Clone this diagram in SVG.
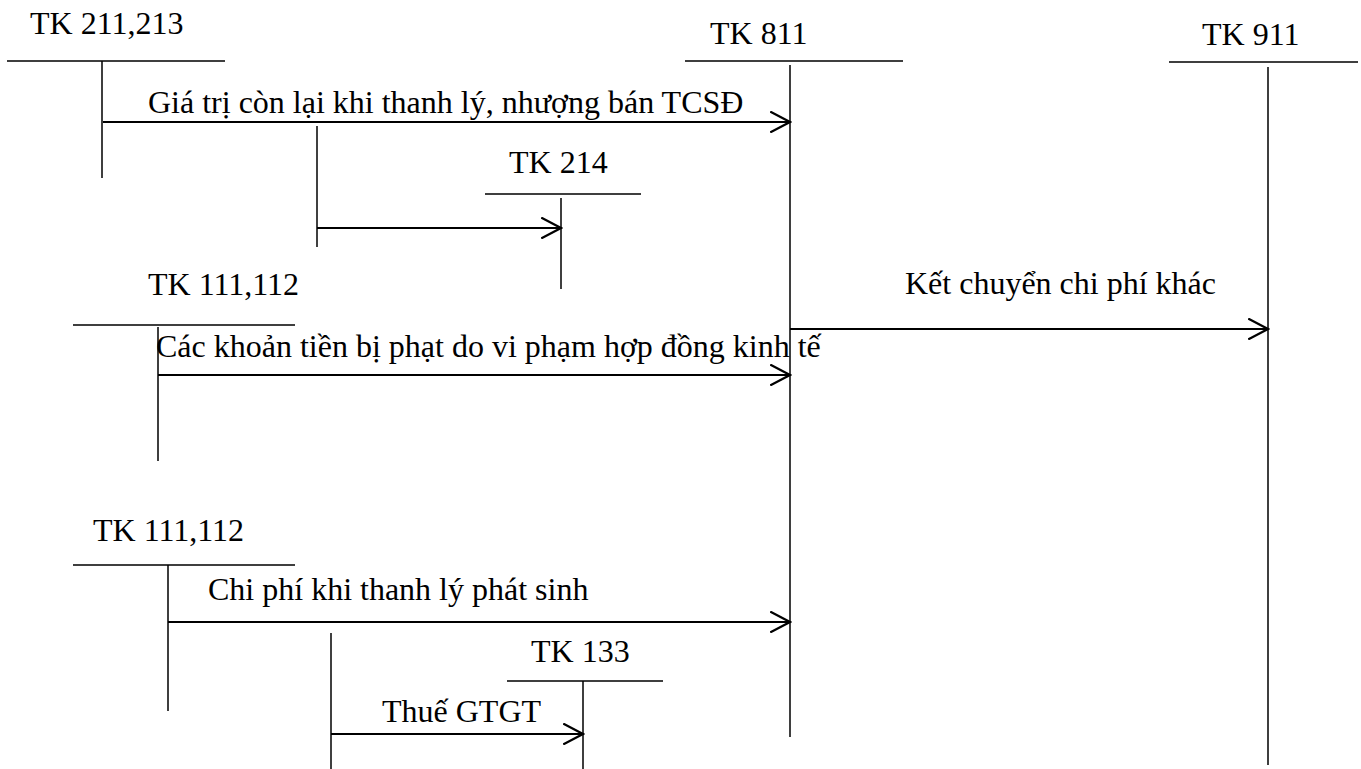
<svg xmlns="http://www.w3.org/2000/svg" width="1361" height="769" viewBox="0 0 1361 769">
  <style>
    .lbl { font-family: "Liberation Serif", "Times New Roman", serif; font-size: 32px; fill: #000; }
    .t { stroke: #000; stroke-width: 1.5; fill: none; }
    .arr { stroke: #000; stroke-width: 2; fill: none; marker-end: url(#chev); }
  </style>
  <defs>
    <marker id="chev" markerUnits="userSpaceOnUse" markerWidth="22" markerHeight="22" viewBox="0 0 20 20" refX="18" refY="10" orient="auto">
      <path d="M0,0.5 L18,10 L0,19.5" fill="none" stroke="#000" stroke-width="2"/>
    </marker>
  </defs>
  <rect width="1361" height="769" fill="#fff"/>

  <!-- T-accounts -->
  <g id="tk211">
    <text class="lbl" x="30" y="34">TK 211,213</text>
    <path class="t" d="M7,61 H225 M102,61 V178"/>
  </g>
  <g id="tk811">
    <text class="lbl" x="710" y="44">TK 811</text>
    <path class="t" d="M685,61 H903 M790,65 V737"/>
  </g>
  <g id="tk911">
    <text class="lbl" x="1202" y="45">TK 911</text>
    <path class="t" d="M1169,62 H1358 M1268,67 V765"/>
  </g>
  <g id="tk214">
    <text class="lbl" x="509" y="173">TK 214</text>
    <path class="t" d="M485,194 H641 M561,198 V289"/>
  </g>
  <g id="tk111a">
    <text class="lbl" x="148" y="295">TK 111,112</text>
    <path class="t" d="M73,325 H295 M158,327 V461"/>
  </g>
  <g id="tk111b">
    <text class="lbl" x="93" y="541">TK 111,112</text>
    <path class="t" d="M73,565 H295 M168,565 V711"/>
  </g>
  <g id="tk133">
    <text class="lbl" x="531" y="662">TK 133</text>
    <path class="t" d="M507,681 H663 M583,681 V769"/>
  </g>

  <!-- Connectors -->
  <g id="connectors">
    <path class="arr" d="M103,122 H790"/>
    <path class="t" d="M317,126 V247"/>
    <path class="arr" d="M317,228 H561"/>
    <path class="arr" d="M790,329 H1268"/>
    <path class="arr" d="M158,375 H790"/>
    <path class="arr" d="M168,622 H790"/>
    <path class="t" d="M331,633 V769"/>
    <path class="arr" d="M331,734 H583"/>
  </g>

  <!-- Connector labels -->
  <g id="labels">
    <text class="lbl" x="148" y="113">Giá trị còn lại khi thanh lý, nhượng bán TCSĐ</text>
    <text class="lbl" x="905" y="294">Kết chuyển chi phí khác</text>
    <text class="lbl" x="156" y="357">Các khoản tiền bị phạt do vi phạm hợp đồng kinh tế</text>
    <text class="lbl" x="208" y="600">Chi phí khi thanh lý phát sinh</text>
    <text class="lbl" x="382" y="722">Thuế GTGT</text>
  </g>
</svg>
